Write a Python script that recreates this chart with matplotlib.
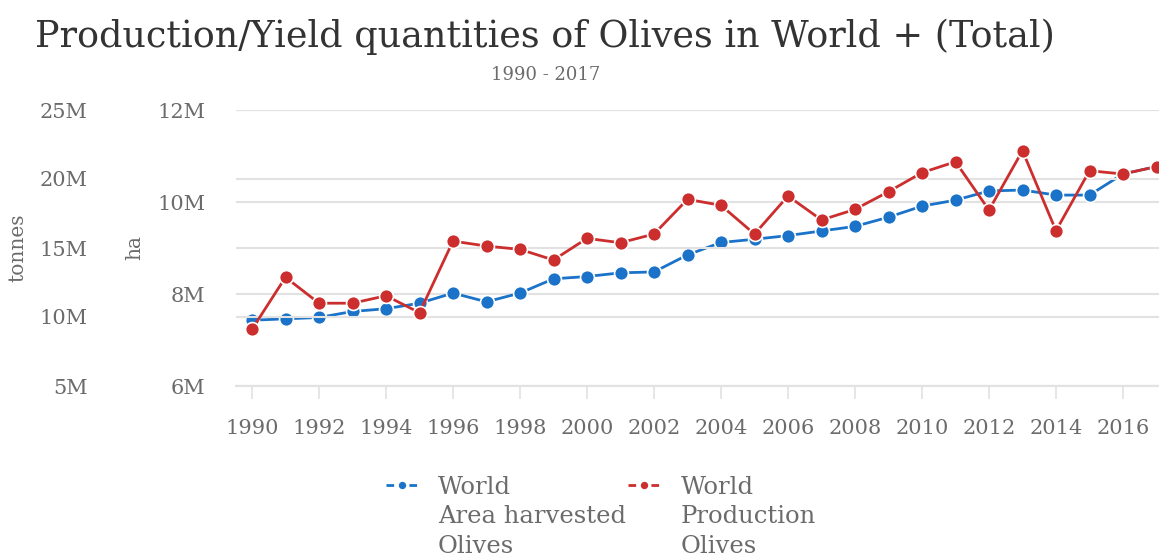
import matplotlib
matplotlib.use("Agg")
import matplotlib.pyplot as plt

plt.rcParams["font.family"] = ["DejaVu Serif"]

years = list(range(1990, 2018))
# Area harvested, ha (millions)
area = [7.43, 7.46, 7.49, 7.62, 7.68, 7.80, 8.02, 7.83, 8.02, 8.33,
        8.38, 8.46, 8.48, 8.85, 9.12, 9.19, 9.27, 9.37, 9.47, 9.67,
        9.91, 10.04, 10.24, 10.26, 10.15, 10.15, 10.61, 10.77]
# Production, tonnes (millions)
production = [9.11, 12.88, 11.00, 11.00, 11.54, 10.31, 15.50, 15.14, 14.90, 14.13,
              15.70, 15.38, 16.01, 18.53, 18.09, 16.01, 18.77, 17.03, 17.80, 19.08,
              20.46, 21.25, 17.75, 22.05, 16.25, 20.60, 20.36, 20.90]
xticks = list(range(1990, 2018, 2))
tonnes_ticks = [5, 10, 15, 20, 25]
ha_ticks = [6, 8, 10, 12]

blue = "#1a73c8"
red = "#cc2e2e"
grey = "#6b6b6b"
grid = "#e2e2e2"

fig = plt.figure(figsize=(11.59, 5.59), dpi=100)
ax = fig.add_axes([236 / 1159, 1 - 386 / 559, 923 / 1159, 276 / 559])
ax2 = ax.twinx()

ax.set_xlim(1990 - 16 / 33.5, 1990 + 907 / 33.5)
ax.set_ylim(5, 25)
ax2.set_ylim(6, 12)

ax.set_yticks(tonnes_ticks)
ax.set_yticklabels([f"{v}M" for v in tonnes_ticks])
ax2.set_yticks(ha_ticks)
ax2.set_yticklabels([f"{v}M" for v in ha_ticks])
ax2.yaxis.set_ticks_position("left")
ax2.yaxis.set_label_position("left")

ax.set_xticks(xticks)
ax.set_xticklabels([str(y) for y in xticks])

for a in (ax, ax2):
    for s in a.spines.values():
        s.set_visible(False)
    a.grid(axis="y", color=grid, linewidth=1.5)
    a.set_axisbelow(True)

ax.spines["bottom"].set_visible(True)
ax.spines["bottom"].set_color(grid)
ax.spines["bottom"].set_linewidth(1.5)
ax.tick_params(axis="x", length=9, width=1.2, color=grid, labelcolor=grey,
               labelsize=15, pad=15)
ax.tick_params(axis="y", length=0, labelcolor=grey, labelsize=15, pad=107)
ax2.tick_params(axis="y", length=0, labelcolor=grey, labelsize=15, pad=22)

l2, = ax2.plot(years, area, color=blue, lw=2, marker="o", ms=10,
               mec="white", mew=1.2, clip_on=False, zorder=3)
l1, = ax.plot(years, production, color=red, lw=2, marker="o", ms=10,
              mec="white", mew=1.2, clip_on=False, zorder=3)
ax2.set_zorder(ax.get_zorder() - 1)
ax.patch.set_visible(False)
ax2.patch.set_visible(True)
ax2.patch.set_facecolor("white")

fig.text(18 / 1159, 1 - 248 / 559, "tonnes", rotation=90, ha="center", va="center",
         color=grey, fontsize=14.5)
fig.text(135 / 1159, 1 - 248 / 559, "ha", rotation=90, ha="center", va="center",
         color=grey, fontsize=14.5)

fig.text(35 / 1159, 1 - 37 / 559, "Production/Yield quantities of Olives in World + (Total)",
         ha="left", va="center", color="#333333", fontsize=26.3)
fig.text(546 / 1159, 1 - 75 / 559, "1990 - 2017", ha="center", va="center",
         color=grey, fontsize=13)

leg = fig.legend([l2, l1], ["World\nArea harvested\nOlives", "World\nProduction\nOlives"],
                 loc="upper left", bbox_to_anchor=(386 / 1159, 1 - 476 / 559),
                 ncol=2, frameon=False, fontsize=17.5, handlelength=1.28,
                 handletextpad=0.86, columnspacing=0.1, markerscale=0.65,
                 borderpad=0, borderaxespad=0)
for t in leg.get_texts():
    t.set_color(grey)
    t.set_linespacing(1.36)
for h in leg.legend_handles:
    h.set_dashes([2.75, 5.5])
# put each handle level with the first line of its label
for col in leg._legend_handle_box.get_children():
    for item in col.get_children():
        item.align = "top"

fig.savefig("out.png", dpi=100)
